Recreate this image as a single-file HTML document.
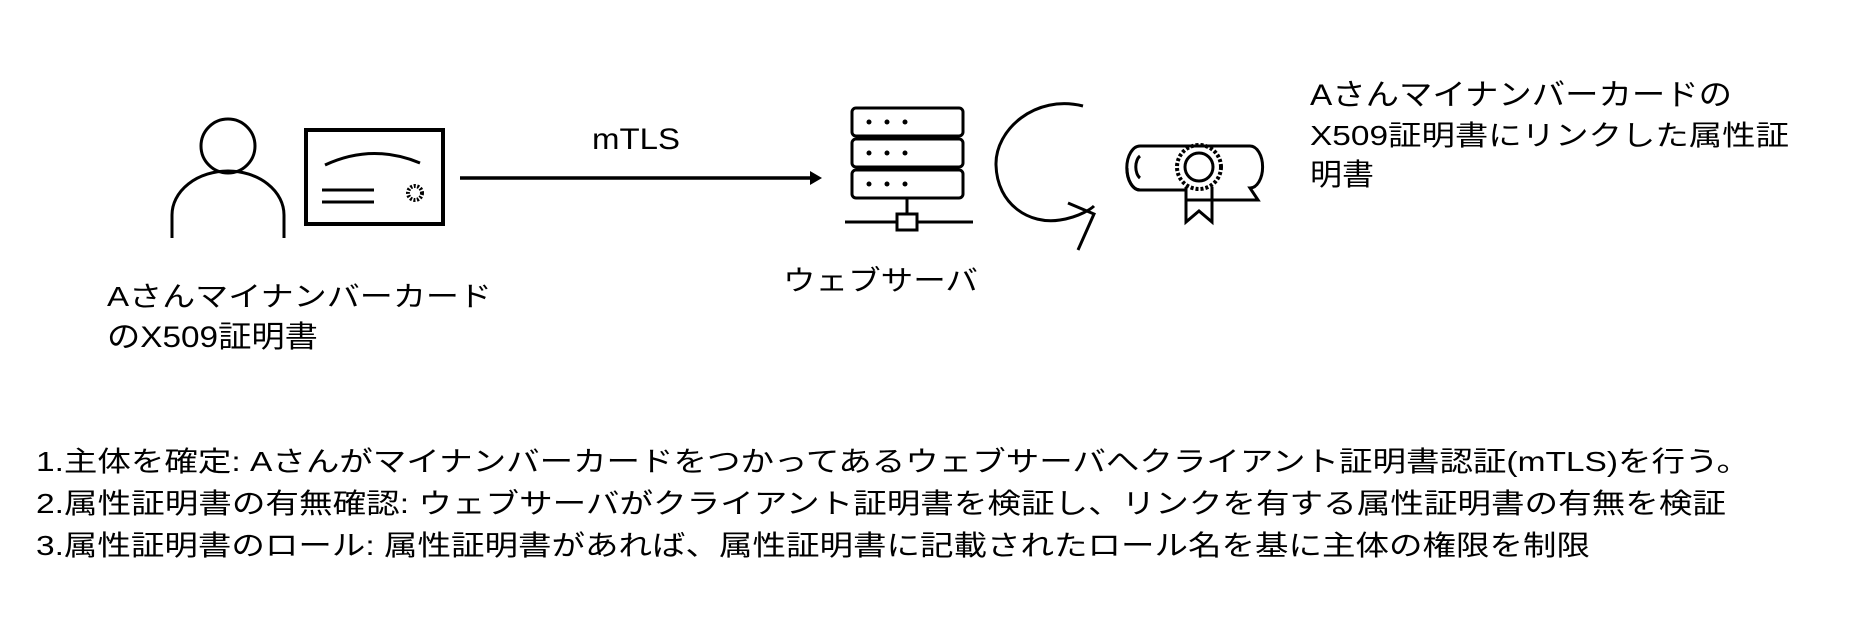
<!DOCTYPE html>
<html><head><meta charset="utf-8"><style>
html,body{margin:0;padding:0;background:#fff;}
svg{display:block;}
text{font-family:"Liberation Sans","Noto Sans CJK JP",sans-serif;fill:#000;}
</style></head><body>
<svg width="1850" height="622" viewBox="0 0 1850 622" xmlns="http://www.w3.org/2000/svg">
<g fill="none" stroke="#000" stroke-width="3">
  <circle cx="228" cy="146" r="27"/>
  <path d="M172 238 V215 A56 44 0 0 1 284 215 V238"/>
  <rect x="306" y="130" width="137" height="94" stroke-width="4"/>
  <path d="M325 165 Q372 143 420 163"/>
  <line x1="322" y1="190" x2="374" y2="190"/><line x1="322" y1="202" x2="374" y2="202"/>
  <circle cx="415" cy="193" r="7" stroke-dasharray="2 1.5" stroke-width="4"/>
  <line x1="460" y1="178" x2="812" y2="178" stroke-width="3.5"/>
  <rect x="852" y="108" width="111" height="28" rx="4"/>
  <rect x="852" y="139" width="111" height="28" rx="4"/>
  <rect x="852" y="170" width="111" height="28" rx="4"/>
  <line x1="907" y1="198" x2="907" y2="214"/>
  <rect x="897" y="214" width="20" height="16"/>
  <line x1="845" y1="222" x2="897" y2="222"/><line x1="917" y1="222" x2="973" y2="222"/>
  <path d="M1083 106 C1035 94 995 130 996 165 C997 205 1030 225 1060 220 C1080 217 1092 208 1094 206"/>
  <path d="M1068 203 L1094 214 L1078 250"/>
  <path d="M1140 146 H1250 A12 20 0 0 1 1250 188 L1258 200 H1186"/>
  <path d="M1140 146 A12 20 0 0 0 1140 190 H1186"/>
  <path d="M1140 156 A7 12 0 0 0 1140 178"/>
  <path d="M1127 168 A13 22 0 0 0 1140 190"/>
  <circle cx="1199" cy="167" r="22" stroke-dasharray="3 2" stroke-width="4"/>
  <circle cx="1199" cy="167" r="14"/>
  <path d="M1186 187 V222 L1199 211 L1212 222 V187"/>
</g>
<g fill="#000">
  <circle cx="869" cy="122" r="2.5"/><circle cx="887" cy="122" r="2.5"/><circle cx="905" cy="122" r="2.5"/>
  <circle cx="869" cy="153" r="2.5"/><circle cx="887" cy="153" r="2.5"/><circle cx="905" cy="153" r="2.5"/>
  <circle cx="869" cy="184" r="2.5"/><circle cx="887" cy="184" r="2.5"/><circle cx="905" cy="184" r="2.5"/>
</g>
<polygon points="810,171 822,178 810,185" fill="#000"/>
<g font-size="28">
  <text x="592" y="149" textLength="88" lengthAdjust="spacingAndGlyphs" font-size="30">mTLS</text>
  <text x="107" y="306" textLength="385" lengthAdjust="spacingAndGlyphs">Aさんマイナンバーカード</text>
  <text x="107" y="347" textLength="211" lengthAdjust="spacingAndGlyphs" font-size="30">のX509証明書</text>
  <text x="783" y="290" textLength="195" lengthAdjust="spacingAndGlyphs">ウェブサーバ</text>
  <text x="1310" y="105" textLength="422" lengthAdjust="spacingAndGlyphs" font-size="30">Aさんマイナンバーカードの</text>
  <text x="1310" y="145" textLength="479" lengthAdjust="spacingAndGlyphs">X509証明書にリンクした属性証</text>
  <text x="1310" y="185" textLength="64" lengthAdjust="spacingAndGlyphs" font-size="30">明書</text>
  <text x="36" y="471" textLength="1714" lengthAdjust="spacingAndGlyphs">1.主体を確定: Aさんがマイナンバーカードをつかってあるウェブサーバへクライアント証明書認証(mTLS)を行う。</text>
  <text x="36" y="513" textLength="1690" lengthAdjust="spacingAndGlyphs">2.属性証明書の有無確認: ウェブサーバがクライアント証明書を検証し、リンクを有する属性証明書の有無を検証</text>
  <text x="36" y="555" textLength="1554" lengthAdjust="spacingAndGlyphs">3.属性証明書のロール: 属性証明書があれば、属性証明書に記載されたロール名を基に主体の権限を制限</text>
</g>
</svg>
</body></html>
